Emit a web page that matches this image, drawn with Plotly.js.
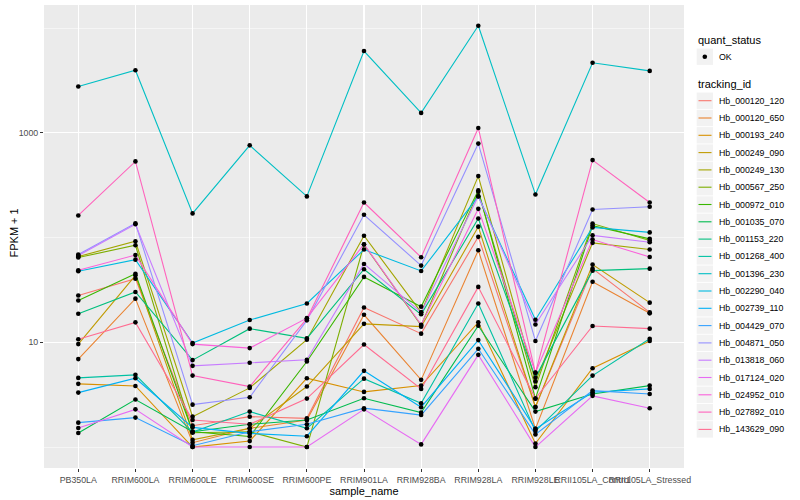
<!DOCTYPE html>
<html><head><meta charset="utf-8">
<script src="https://cdn.plot.ly/plotly-3.0.1.min.js"></script>
<style>html,body{margin:0;padding:0;background:#fff}#chart{width:800px;height:500px}</style>
</head><body><div id="chart"></div>
<script>
const categories = ['PB350LA','RRIM600LA','RRIM600LE','RRIM600SE','RRIM600PE','RRIM901LA','RRIM928BA','RRIM928LA','RRIM928LE','RRII105LA_Control','RRII105LA_Stressed'];
const trackingIds = ['Hb_000120_120','Hb_000120_650','Hb_000193_240','Hb_000249_090','Hb_000249_130','Hb_000567_250','Hb_000972_010','Hb_001035_070','Hb_001153_220','Hb_001268_400','Hb_001396_230','Hb_002290_040','Hb_002739_110','Hb_004429_070','Hb_004871_050','Hb_013818_060','Hb_017124_020','Hb_024952_010','Hb_027892_010','Hb_143629_090'];
const quantStatus = ['OK'];

// FPKM + 1 per sample, in category order
const Hb_000120_120 = [28.0, 40.5, 1.60, 1.95, 1.88, 21.5, 12.1, 101.6, 2.41, 50.5, 19.3];
const Hb_000120_650 = [6.91, 26.1, 1.10, 1.51, 1.81, 18.3, 4.38, 75.6, 1.49, 37.9, 18.9];
const Hb_000193_240 = [4.01, 3.83, 1.0, 1.14, 4.54, 3.36, 3.86, 15.5, 1.08, 5.66, 10.3];
const Hb_000249_090 = [9.61, 43.6, 1.17, 1.51, 3.78, 15.0, 14.1, 127, 2.41, 55.2, 23.9];
const Hb_000249_130 = [65.8, 92.2, 1.95, 3.67, 10.6, 104, 19.3, 386, 4.22, 89.0, 76.8];
const Hb_000567_250 = [64.4, 84.4, 1.37, 1.40, 1.0, 85.7, 14.5, 274, 3.73, 136, 93.6];
const Hb_000972_010 = [25.1, 45.0, 1.40, 1.26, 6.55, 42.1, 21.9, 282, 2.90, 130, 97.2];
const Hb_001035_070 = [1.36, 2.84, 1.40, 1.65, 1.81, 2.92, 2.13, 14.4, 2.18, 3.21, 3.86];
const Hb_001153_220 = [18.7, 30.2, 6.76, 13.5, 10.9, 49.8, 18.5, 152, 4.60, 48.3, 50.5];
const Hb_001268_400 = [4.57, 4.89, 1.39, 2.18, 1.51, 4.50, 2.62, 23.5, 1.42, 4.81, 10.8];
const Hb_001396_230 = [2767, 3960, 170, 759, 247, 6030, 1548, 10520, 258, 4656, 3900];
const Hb_002290_040 = [47.6, 61.5, 9.83, 16.3, 23.5, 76.8, 48.0, 247, 16.4, 125, 112];
const Hb_002739_110 = [3.31, 4.54, 1.54, 1.35, 1.27, 5.34, 2.40, 10.5, 1.49, 3.34, 3.59];
const Hb_004429_070 = [1.71, 1.91, 1.03, 1.40, 1.65, 2.35, 2.02, 8.67, 1.32, 3.46, 3.21];
const Hb_004871_050 = [68.8, 137, 2.54, 2.99, 16.2, 165, 54.0, 789, 10.3, 185, 197];
const Hb_013818_060 = [67.3, 134, 5.96, 6.37, 6.80, 56.0, 19.3, 248, 14.8, 105, 90.2];
const Hb_017124_020 = [1.52, 2.29, 1.0, 1.0, 1.0, 2.29, 1.06, 7.59, 1.0, 3.08, 2.35];
const Hb_024952_010 = [48.7, 68.0, 9.61, 8.80, 17.0, 86.3, 14.7, 188, 5.14, 95.7, 65.3];
const Hb_027892_010 = [162.5, 533, 4.81, 3.78, 16.8, 216, 64.8, 1112, 5.11, 549, 216];
const Hb_143629_090 = [10.7, 15.5, 1.81, 1.65, 2.90, 9.53, 3.59, 33.8, 2.90, 14.3, 13.5];

const yTickVals = [10, 1000];
const yTickText = ['10', '1000'];
const yMinorVals = [1, 100, 10000];

const seriesValues = [Hb_000120_120, Hb_000120_650, Hb_000193_240, Hb_000249_090, Hb_000249_130,
  Hb_000567_250, Hb_000972_010, Hb_001035_070, Hb_001153_220, Hb_001268_400, Hb_001396_230,
  Hb_002290_040, Hb_002739_110, Hb_004429_070, Hb_004871_050, Hb_013818_060, Hb_017124_020,
  Hb_024952_010, Hb_027892_010, Hb_143629_090];

const colors = ['#F8766D','#EA8331','#D89000','#C09B00','#A3A500','#7CAE00','#39B600','#00BB4E','#00BF7D','#00C1A3',
  '#00BFC4','#00BAE0','#00B0F6','#35A2FF','#9590FF','#C77CFF','#E76BF3','#FA62DB','#FF62BC','#FF6C91'];

const W = 800, H = 500;
const M = {l: 44, r: 116, t: 5, b: 32};
const pw = W - M.l - M.r, ph = H - M.t - M.b;
const px2x = p => (p - M.l) / pw;
const py2y = p => (H - M.b - p) / ph;
const FONT = 'Liberation Sans, Arial, Helvetica, sans-serif';

const traces = seriesValues.map((vals, i) => ({
  type: 'scatter', mode: 'lines', x: categories, y: vals, name: trackingIds[i],
  line: {color: colors[i], width: 1.1}, showlegend: false, hoverinfo: 'skip'
}));
traces.push({
  type: 'scatter', mode: 'markers', name: quantStatus[0],
  x: seriesValues.flatMap(() => categories), y: seriesValues.flat(),
  marker: {color: '#000', size: 4.6}, showlegend: false, hoverinfo: 'skip'
});

// manual ggplot-like legend
const shapes = [], annotations = [];
const keyX0 = 696.7, keyX1 = 713;
function keyBg(cy) {
  shapes.push({type: 'rect', xref: 'paper', yref: 'paper', x0: px2x(keyX0), x1: px2x(keyX1),
    y0: py2y(cy - 8.2), y1: py2y(cy + 8.2), fillcolor: '#F2F2F2', line: {width: 0}, layer: 'below'});
}
annotations.push({xref: 'paper', yref: 'paper', x: px2x(695.5), y: py2y(40), xanchor: 'left', yanchor: 'middle',
  text: 'quant_status', showarrow: false, font: {family: FONT, size: 11, color: '#000'}});
keyBg(56.7);
const r = 2.3, cx = 704.8, cy0 = 56.7;
shapes.push({type: 'circle', xref: 'paper', yref: 'paper', x0: px2x(cx - r), x1: px2x(cx + r),
  y0: py2y(cy0 + r), y1: py2y(cy0 - r), fillcolor: '#000', line: {width: 0}});
annotations.push({xref: 'paper', yref: 'paper', x: px2x(716.5), y: py2y(cy0), xanchor: 'left', yanchor: 'middle',
  text: quantStatus[0], showarrow: false, font: {family: FONT, size: 8.8, color: '#000'}});
annotations.push({xref: 'paper', yref: 'paper', x: px2x(695.5), y: py2y(84), xanchor: 'left', yanchor: 'middle',
  text: 'tracking_id', showarrow: false, font: {family: FONT, size: 11, color: '#000'}});
trackingIds.forEach((id, i) => {
  const cy = 100.7 + 17.3 * i;
  keyBg(cy);
  shapes.push({type: 'line', xref: 'paper', yref: 'paper', x0: px2x(698.5), x1: px2x(711.5),
    y0: py2y(cy), y1: py2y(cy), line: {color: colors[i], width: 1.1}});
  annotations.push({xref: 'paper', yref: 'paper', x: px2x(716.5), y: py2y(cy), xanchor: 'left', yanchor: 'middle',
    text: id, showarrow: false, font: {family: FONT, size: 8.8, color: '#000'}});
});
// y-axis title placed like ggplot's
annotations.push({xref: 'paper', yref: 'paper', x: px2x(13.5), y: py2y(233), xanchor: 'center', yanchor: 'middle',
  text: 'FPKM + 1', textangle: -90, showarrow: false, font: {family: FONT, size: 11, color: '#000'}});

const layout = {
  width: W, height: H, margin: M, paper_bgcolor: '#fff', plot_bgcolor: '#EBEBEB',
  font: {family: FONT}, showlegend: false,
  xaxis: {
    type: 'category', categoryorder: 'array', categoryarray: categories, range: [-0.6, 10.6],
    tickangle: 0, showgrid: true, gridcolor: '#fff', gridwidth: 1.1, zeroline: false, showline: false,
    ticks: 'outside', ticklen: 3, tickwidth: 1, tickcolor: '#333',
    tickfont: {family: FONT, size: 8.8, color: '#4D4D4D'},
    title: {text: 'sample_name', font: {family: FONT, size: 11, color: '#000'}, standoff: 1}
  },
  yaxis: {
    type: 'log', range: [-0.2, 4.22], tickmode: 'array', tickvals: yTickVals, ticktext: yTickText,
    showgrid: true, gridcolor: '#fff', gridwidth: 1.1, zeroline: false, showline: false,
    ticks: 'outside', ticklen: 3, tickwidth: 1, tickcolor: '#333',
    tickfont: {family: FONT, size: 8.8, color: '#4D4D4D'},
    minor: {tickmode: 'array', tickvals: yMinorVals, showgrid: true, gridcolor: '#fff', gridwidth: 0.5, ticks: ''}
  },
  shapes: shapes, annotations: annotations
};

Plotly.newPlot('chart', traces, layout, {staticPlot: true, displayModeBar: false});
</script></body></html>
